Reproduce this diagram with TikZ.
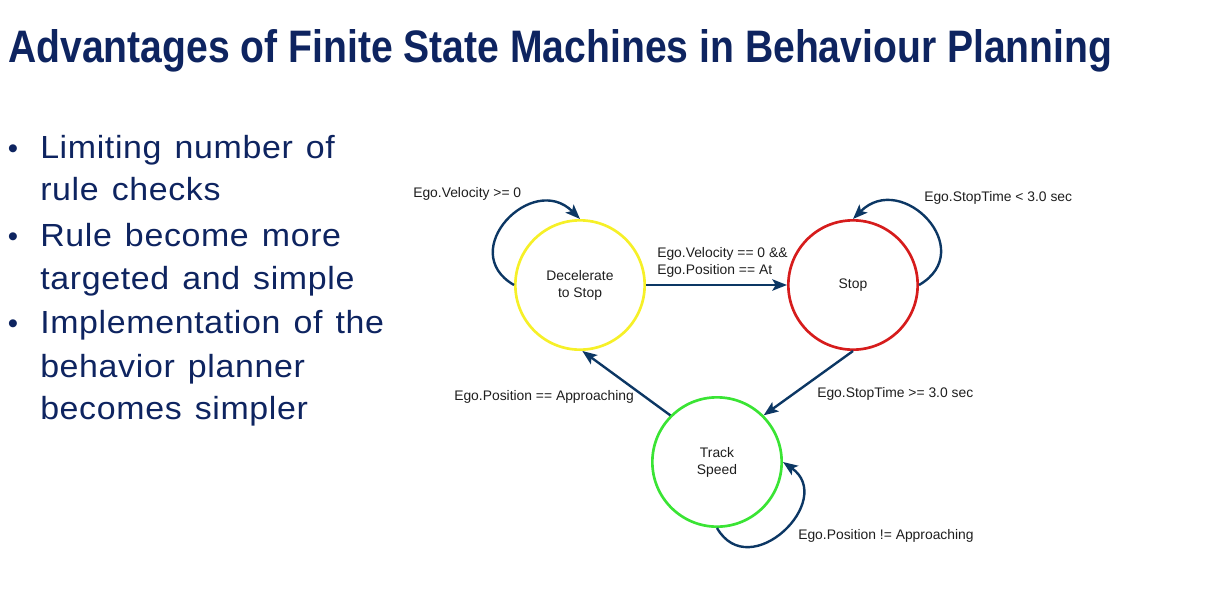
\documentclass[tikz,border=0pt]{standalone}
\usepackage{graphicx}
\usepackage{fontspec}
\setmainfont{Liberation Sans}
\newfontfamily\bulletFont[FakeStretch=1.06,LetterSpace=2,WordSpace=1.3]{Liberation Sans}
\usetikzlibrary{arrows.meta}
\definecolor{titleBlue}{RGB}{14,36,96}
\definecolor{arrowBlue}{RGB}{12,55,100}
\definecolor{textGrey}{RGB}{30,30,30}
\definecolor{yellowState}{RGB}{246,240,40}
\definecolor{redState}{RGB}{214,28,28}
\definecolor{greenState}{RGB}{58,228,52}
\newcommand{\diagramFont}{\fontsize{10.4}{12.75}\selectfont}

\begin{document}
\begin{tikzpicture}[%
  x=0.75pt,y=0.75pt,%
  stateStyle/.style={circle,line width=2pt,minimum size=97pt,inner sep=0pt,%
    align=center,text=textGrey,font=\diagramFont},%
  arrowStyle/.style={-{Stealth[length=11pt,width=8.5pt,inset=2.5pt]},%
    line width=1.8pt,arrowBlue},%
  labelStyle/.style={inner sep=0pt,text=textGrey,font=\diagramFont},%
  lineStyle/.style={anchor=base west,inner sep=0pt,text=titleBlue,%
    font=\bulletFont\fontsize{24}{28}\selectfont},%
  dotStyle/.style={anchor=base,inner sep=0pt,text=titleBlue,%
    font=\fontsize{22}{26}\selectfont}%
]
%%
%% Page size.
\useasboundingbox (0,0) rectangle (1213,-593);
%%
%% Title.
\node[anchor=base west,inner sep=0pt,text=titleBlue] (title) at (8,-62)
  {\resizebox{828pt}{24.75pt}{\bfseries Advantages of Finite State Machines in Behaviour Planning}};
%%
%% Bullet list.
\foreach \yBase [count=\i] in {158,246,333}
  \node[dotStyle] (dot\i) at (13,-\yBase) {\textbullet};
\foreach \lineText/\yBase [count=\i] in {Limiting number of/158,rule checks/200,%
    Rule become more/246,targeted and simple/289,Implementation of the/333,%
    behavior planner/377,becomes simpler/419}
  \node[lineStyle] (line\i) at (40,-\yBase) {\lineText};
%%
%% The states.
\node[stateStyle,draw=yellowState] (decel) at (580,-285) {Decelerate\\to Stop};
\node[stateStyle,draw=redState] (stop) at (853,-285) {Stop};
\node[stateStyle,draw=greenState] (track) at (717,-462) {Track\\Speed};
%%
%% The transitions.
\draw[arrowStyle] (decel.west) to[out=150,in=135,looseness=1.85] (decel.north);
\draw[arrowStyle] (stop.east) to[out=30,in=45,looseness=1.9] (stop.north);
\draw[arrowStyle] (track.south) to[out=-60,in=-35,looseness=1.8] (track.east);
\draw[arrowStyle] (decel.east) -- (stop.west);
\draw[arrowStyle] (stop.south) -- (track.north east);
\draw[arrowStyle] (track.north west) -- (decel.272);
%%
%% The conditions.
\node[labelStyle,anchor=base west] (velocityLabel) at (413,-197) {Ego.Velocity >= 0};
\node[labelStyle,anchor=north west,align=left] (atLabel) at (657,-247)
  {Ego.Velocity == 0 \&\&\\Ego.Position == At};
\node[labelStyle,anchor=base west] (waitLabel) at (924,-201) {Ego.StopTime < 3.0 sec};
\node[labelStyle,anchor=base west] (goLabel) at (817,-397) {Ego.StopTime >= 3.0 sec};
\node[labelStyle,anchor=base west] (approachLabel) at (454,-400) {Ego.Position == Approaching};
\node[labelStyle,anchor=base west] (cruiseLabel) at (798,-539) {Ego.Position != Approaching};
\end{tikzpicture}
\end{document}
